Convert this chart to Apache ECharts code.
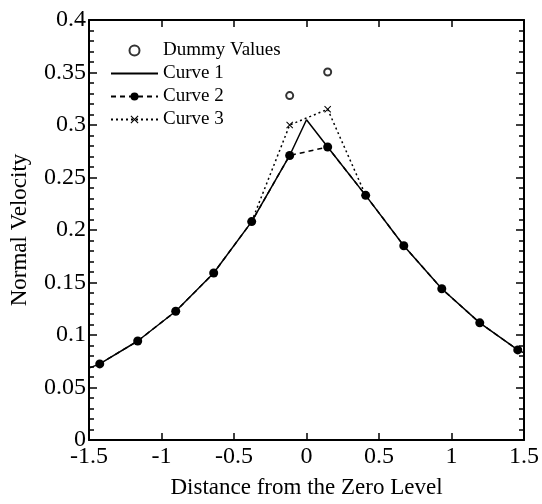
<!DOCTYPE html>
<html>
<head>
<meta charset="utf-8">
<script src="https://cdn.jsdelivr.net/npm/echarts@6/dist/echarts.min.js"></script>
<style>html,body{margin:0;padding:0;background:#fff}#c{width:542px;height:504px}</style>
</head>
<body>
<div id="c"></div>
<script>
// Data
const gridX = [-1.426, -1.164, -0.902, -0.640, -0.378, -0.116, 0.146, 0.408, 0.671, 0.933, 1.195, 1.457];
const curve2Y = [0.0725, 0.0943, 0.1226, 0.159, 0.208, 0.271, 0.279, 0.233, 0.185, 0.144, 0.1116, 0.0858];
const curve1X = [-1.5, -1.426, -1.164, -0.902, -0.640, -0.378, -0.116, 0.0, 0.146, 0.408, 0.671, 0.933, 1.195, 1.457, 1.5];
const curve1Y = [0.0685, 0.0725, 0.0943, 0.1226, 0.159, 0.208, 0.271, 0.305, 0.279, 0.233, 0.185, 0.144, 0.1116, 0.0858, 0.083];
const curve3X = [-0.378, -0.116, 0.146, 0.408];
const curve3Y = [0.208, 0.300, 0.315, 0.233];
const curve3Marked = [false, true, true, false];
const dummyX = [-0.116, 0.146];
const dummyY = [0.328, 0.3505];
const seriesNames = ['Dummy Values', 'Curve 1', 'Curve 2', 'Curve 3'];

const FONT = 'Liberation Serif';
const XMARK = 'path://M0,1 L1,0 L5,4 L9,0 L10,1 L6,5 L10,9 L9,10 L5,6 L1,10 L0,9 L4,5 Z';
const pairs = (xs, ys) => xs.map((x, i) => [x, ys[i]]);

const axisLine = {show: true, onZero: false, lineStyle: {color: '#000', width: 2}};
const chart = echarts.init(document.getElementById('c'), null, {renderer: 'canvas'});
chart.setOption({
  animation: false,
  backgroundColor: '#fff',
  grid: {left: 89, right: 18, top: 20, bottom: 61, containLabel: false},
  legend: {
    data: [
      {name: seriesNames[0]},
      {name: seriesNames[1], itemStyle: {opacity: 0}},
      {name: seriesNames[2]},
      {name: seriesNames[3]}
    ],
    orient: 'vertical',
    left: 105, top: 36,
    itemWidth: 47, itemHeight: 10, itemGap: 4,
    textStyle: {fontFamily: FONT, fontSize: 19, color: '#000'}
  },
  xAxis: [{
    type: 'value', min: -1.5, max: 1.5, interval: 0.5,
    name: 'Distance from the Zero Level', nameLocation: 'middle', nameGap: 36,
    nameTextStyle: {fontFamily: FONT, fontSize: 23, color: '#000'},
    axisLine: axisLine,
    axisTick: {show: true, inside: true, length: 7, lineStyle: {color: '#000', width: 1.5}},
    axisLabel: {fontFamily: FONT, fontSize: 24, color: '#000', margin: 5},
    splitLine: {show: false}
  }, {
    type: 'value', min: -1.5, max: 1.5, interval: 0.5, position: 'top',
    axisLine: axisLine,
    axisTick: {show: true, inside: true, length: 7, lineStyle: {color: '#000', width: 1.5}},
    axisLabel: {show: false},
    splitLine: {show: false}
  }],
  yAxis: [{
    type: 'value', min: 0, max: 0.4, interval: 0.05,
    name: 'Normal Velocity', nameLocation: 'middle', nameGap: 58,
    nameTextStyle: {fontFamily: FONT, fontSize: 23, color: '#000'},
    axisLine: axisLine,
    axisTick: {show: true, inside: true, length: 8, lineStyle: {color: '#000', width: 1.5}},
    minorTick: {show: true, splitNumber: 5, length: 5, lineStyle: {color: '#000', width: 1.5}},
    axisLabel: {fontFamily: FONT, fontSize: 24, color: '#000', margin: 3},
    splitLine: {show: false}, minorSplitLine: {show: false}
  }, {
    type: 'value', min: 0, max: 0.4, interval: 0.05, position: 'right',
    axisLine: axisLine,
    axisTick: {show: true, inside: true, length: 8, lineStyle: {color: '#000', width: 1.5}},
    minorTick: {show: true, splitNumber: 5, length: 5, lineStyle: {color: '#000', width: 1.5}},
    axisLabel: {show: false},
    splitLine: {show: false}, minorSplitLine: {show: false}
  }],
  series: [{
    name: 'Dummy Values', type: 'scatter',
    data: pairs(dummyX, dummyY),
    symbol: 'emptyCircle', symbolSize: 7,
    itemStyle: {color: '#000', borderColor: '#000', borderWidth: 1.5}
  }, {
    name: 'Curve 1', type: 'line',
    data: pairs(curve1X, curve1Y),
    symbol: 'none',
    lineStyle: {color: '#000', width: 1.5, type: 'solid'},
    itemStyle: {color: '#000'}
  }, {
    name: 'Curve 2', type: 'line',
    data: pairs(gridX, curve2Y),
    symbol: 'circle', symbolSize: 9, showAllSymbol: true,
    lineStyle: {color: '#000', width: 1.5, type: [5, 4]},
    itemStyle: {color: '#000'}
  }, {
    name: 'Curve 3', type: 'line',
    data: curve3X.map((x, i) => curve3Marked[i] ? [x, curve3Y[i]] : {value: [x, curve3Y[i]], symbol: 'none'}),
    symbol: XMARK, symbolSize: 7, showAllSymbol: true,
    lineStyle: {color: '#000', width: 1.5, type: [2, 3]},
    itemStyle: {color: '#000'}
  }]
});
</script>
</body>
</html>
